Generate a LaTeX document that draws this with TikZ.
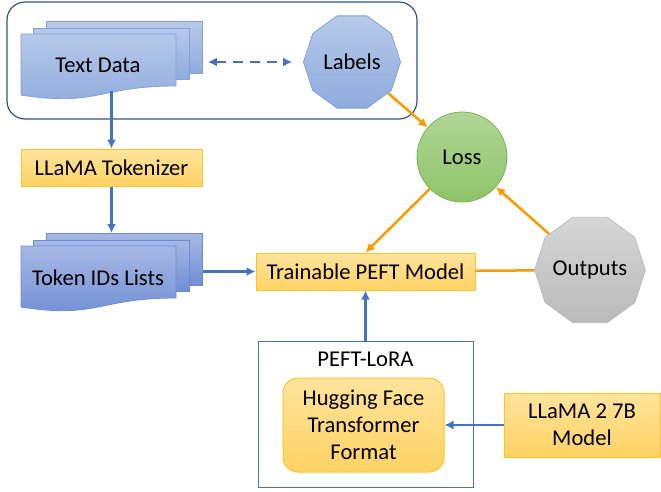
\documentclass[tikz,border=0pt]{standalone}
\usepackage{fontspec}
\setmainfont{Carlito}
\usetikzlibrary{arrows.meta,shapes.geometric}

\definecolor{blaulinie}{RGB}{68,114,196}
\definecolor{rahmenblau}{RGB}{47,82,143}
\definecolor{orangelinie}{RGB}{255,153,0}
\definecolor{gelboben}{RGB}{255,228,156}
\definecolor{gelbunten}{RGB}{255,210,100}
\definecolor{gelbrand}{RGB}{255,196,40}
\definecolor{hellblauoben}{RGB}{182,201,233}
\definecolor{hellblauunten}{RGB}{143,171,221}
\definecolor{hellblaurand}{RGB}{132,162,218}
\definecolor{dunkelblauoben}{RGB}{166,184,229}
\definecolor{dunkelblauunten}{RGB}{112,142,211}
\definecolor{dunkelblaurand}{RGB}{110,140,210}
\definecolor{gruenoben}{RGB}{176,214,150}
\definecolor{gruenunten}{RGB}{142,196,104}
\definecolor{gruenrand}{RGB}{120,180,85}
\definecolor{grauoben}{RGB}{214,214,214}
\definecolor{grauunten}{RGB}{186,186,186}
\definecolor{graurand}{RGB}{190,190,190}

\begin{document}
\begin{tikzpicture}[x=1pt,y=-1pt,>={Latex[length=9pt,width=9pt]},
	every node/.style={font=\fontsize{22.6}{27}\selectfont,align=center},
	blaupfeil/.style={->,draw=blaulinie,line width=2.5pt},
	orangepfeil/.style={draw=orangelinie,line width=2.5pt},
	gelbbox/.style={draw=gelbrand,line width=1pt,top color=gelboben,bottom color=gelbunten,inner sep=0pt},
	textdoku/.style={draw=hellblaurand,line width=0.8pt,top color=hellblauoben,bottom color=hellblauunten},
	iddoku/.style={draw=dunkelblaurand,line width=0.8pt,top color=dunkelblauoben,bottom color=dunkelblauunten},
	zehneck/.style={regular polygon,regular polygon sides=10,inner sep=0pt,line width=0.8pt}]

\useasboundingbox (0,0) rectangle (661,491);

% stack of three documents: name, left, top, text, style
\def\stapel#1#2#3#4#5{
	\node[#5,minimum width=156,minimum height=52,inner sep=0pt,anchor=north west] (#1-back) at (#2+25,#3) {};
	\draw[#5] (#2+12,#3+7) rectangle (#2+168,#3+58);
	\draw[#5] (#2,#3+13) -- (#2+155,#3+13) -- (#2+155,#3+65)
		.. controls (#2+77,#3+65) and (#2+77,#3+86) .. (#2,#3+74) -- cycle;
	\node (#1) at (#2+77,#3+44.5) {#4};
	\coordinate (#1-unten) at (#2+91,#3+70);
}

\draw[rahmenblau,line width=1.2pt,rounded corners=18] (7,2) rectangle (417,119);

\stapel{textdata}{21}{21}{Text Data}{textdoku}
\stapel{ids}{21}{233}{Token IDs Lists}{iddoku}

\node[zehneck,minimum size=97,draw=hellblaurand,top color=hellblauoben,bottom color=hellblauunten] (labels) at (352,62) {Labels};

\node[gelbbox,minimum width=181,minimum height=37] (tok) at (111.5,167.5) {LLaMA Tokenizer};
\node[gelbbox,minimum width=219,minimum height=37] (trainable) at (365.5,271.5) {Trainable PEFT Model};

\node[circle,minimum size=90,inner sep=0pt,line width=0.8pt,draw=gruenrand,top color=gruenoben,bottom color=gruenunten] (loss) at (462,157) {Loss};
\node[zehneck,minimum size=96,draw=graurand,top color=grauoben,bottom color=grauunten] (outputs) at (590,270) {Outputs};

\node[draw=blaulinie,line width=1pt,minimum width=215,minimum height=146] (lora) at (365.5,414) {};
\node (loratitel) at (365.5,359) {PEFT-LoRA};
\node[gelbbox,rounded corners=15,minimum width=161,minimum height=94] (hf) at (363.5,425) {Hugging Face\\Transformer\\Format};
\node[gelbbox,minimum width=156,minimum height=64] (llama) at (582,425) {LLaMA 2 7B\\Model};

% connectors
\draw[blaupfeil] (tok.north |- textdata-unten) -- (tok);
\draw[blaupfeil] (tok) -- (tok.south |- ids-back.north);
\draw[blaupfeil] (trainable.west -| ids-back.east) -- (trainable);
\draw[blaupfeil,<->,line width=2pt,dash pattern=on 10pt off 7pt,shorten <=5pt,shorten >=11pt]
	(labels.west -| textdata-back.east) -- (labels.west);
\draw[blaupfeil] (lora) -- (trainable);
\draw[blaupfeil] (llama) -- (hf);

\draw[orangepfeil,->] (labels) -- (loss);
\draw[orangepfeil,->] (loss) -- (trainable.north);
\draw[orangepfeil,->] (outputs) -- (loss);
\draw[orangepfeil] (trainable) -- (outputs);

\end{tikzpicture}
\end{document}
